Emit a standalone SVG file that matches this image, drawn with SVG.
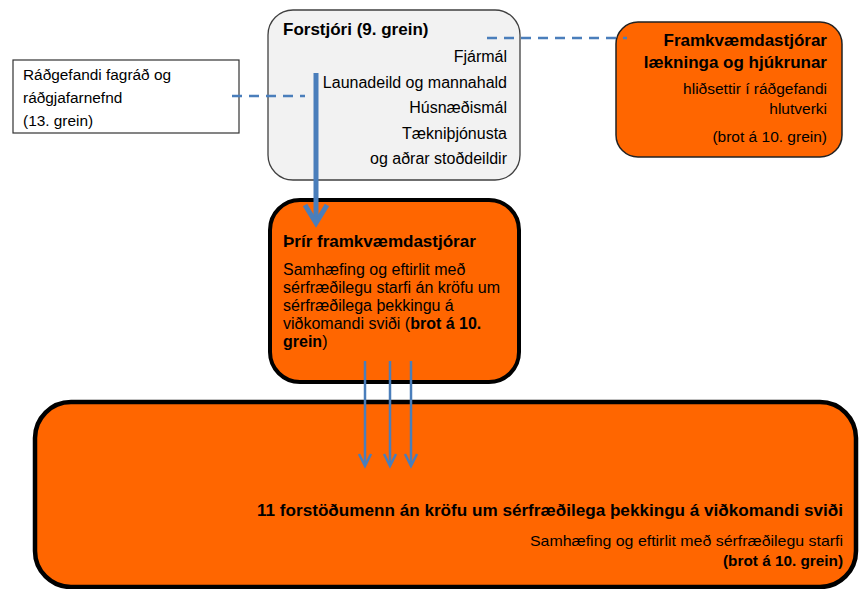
<svg xmlns="http://www.w3.org/2000/svg" width="861" height="589" viewBox="0 0 861 589">
<style>
text{font-family:"Liberation Sans",Arial,sans-serif;fill:#000}
.b{font-weight:bold}
.r{text-anchor:end}
.t{font-size:16px}
.dash{stroke:#4a7ebb;stroke-width:2.5;fill:none;stroke-dasharray:10 7}
.arr{stroke:#4a7ebb;fill:none}
</style>
<rect width="861" height="589" fill="#fff"/>
<g id="forstjori">
<rect x="268" y="10" width="252" height="170" rx="25" fill="#f2f2f2" stroke="#404040" stroke-width="1.3"/>
<text x="283" y="35" class="b" font-size="17">Forstjóri (9. grein)</text>
<text x="507" y="62" class="r t">Fjármál</text>
<text x="507" y="88" class="r t">Launadeild og mannahald</text>
<text x="507" y="113" class="r t">Húsnæðismál</text>
<text x="507" y="139" class="r t">Tækniþjónusta</text>
<text x="507" y="164" class="r t">og aðrar stoðdeildir</text>
</g>
<g id="radgefandi">
<rect x="13" y="60" width="226" height="73" fill="#fff" stroke="#333" stroke-width="1.2"/>
<text x="23" y="80" font-size="15.4">Ráðgefandi fagráð og</text>
<text x="23" y="103" font-size="15.4">ráðgjafarnefnd</text>
<text x="23" y="126" font-size="15.4">(13. grein)</text>
</g>
<g id="framkv-laekn">
<rect x="616" y="22" width="226" height="135" rx="22" fill="#ff6600" stroke="#222" stroke-width="1.5"/>
<text x="827" y="46" class="b r" font-size="17">Framkvæmdastjórar</text>
<text x="827" y="68" class="b r" font-size="17">lækninga og hjúkrunar</text>
<text x="827" y="94" class="r" font-size="15.5">hliðsettir í ráðgefandi</text>
<text x="827" y="114" class="r" font-size="15.5">hlutverki</text>
<text x="827" y="142" class="r" font-size="15.5">(brot á 10. grein)</text>
</g>
<g id="thrir">
<rect x="270" y="200" width="249" height="182" rx="30" fill="#ff6600" stroke="#000" stroke-width="4"/>
<text x="283" y="247" class="b" font-size="17">Þrír framkvæmdastjórar</text>
<text x="283" y="275" font-size="16">Samhæfing og eftirlit með</text>
<text x="283" y="293" font-size="16">sérfræðilegu starfi án kröfu um</text>
<text x="283" y="311" font-size="16">sérfræðilega þekkingu á</text>
<text x="283" y="329" font-size="16">viðkomandi sviði (<tspan class="b">brot á 10.</tspan></text>
<text x="283" y="347" font-size="16"><tspan class="b">grein</tspan>)</text>
</g>
<g id="forstodumenn">
<rect x="35" y="402" width="821" height="185" rx="36" fill="#ff6600" stroke="#000" stroke-width="4.5"/>
<text x="843" y="516" class="b r" font-size="17" textLength="586" lengthAdjust="spacingAndGlyphs">11 forstöðumenn án kröfu um sérfræðilega þekkingu á viðkomandi sviði</text>
<text x="843" y="546" class="r" font-size="15" textLength="313" lengthAdjust="spacingAndGlyphs">Samhæfing og eftirlit með sérfræðilegu starfi</text>
<text x="843" y="566" class="b r" font-size="15" textLength="120" lengthAdjust="spacingAndGlyphs">(brot á 10. grein)</text>
</g>
<g id="connectors">
<line x1="232" y1="96" x2="305" y2="96" class="dash"/>
<line x1="487" y1="38" x2="627" y2="38" class="dash" stroke-dasharray="8 5"/>
<line x1="316" y1="73" x2="316" y2="222" class="arr" stroke-width="5"/>
<polyline points="305,205 316,223 327,205" class="arr" stroke-width="5" stroke-linejoin="miter"/>
<line x1="365" y1="361" x2="365" y2="465" class="arr" stroke-width="2.5"/>
<polyline points="359,454 365,466 371,454" class="arr" stroke-width="2.5"/>
<line x1="390" y1="361" x2="390" y2="465" class="arr" stroke-width="2.5"/>
<polyline points="384,454 390,466 396,454" class="arr" stroke-width="2.5"/>
<line x1="411" y1="361" x2="411" y2="465" class="arr" stroke-width="2.5"/>
<polyline points="405,454 411,466 417,454" class="arr" stroke-width="2.5"/>
</g>
</svg>
